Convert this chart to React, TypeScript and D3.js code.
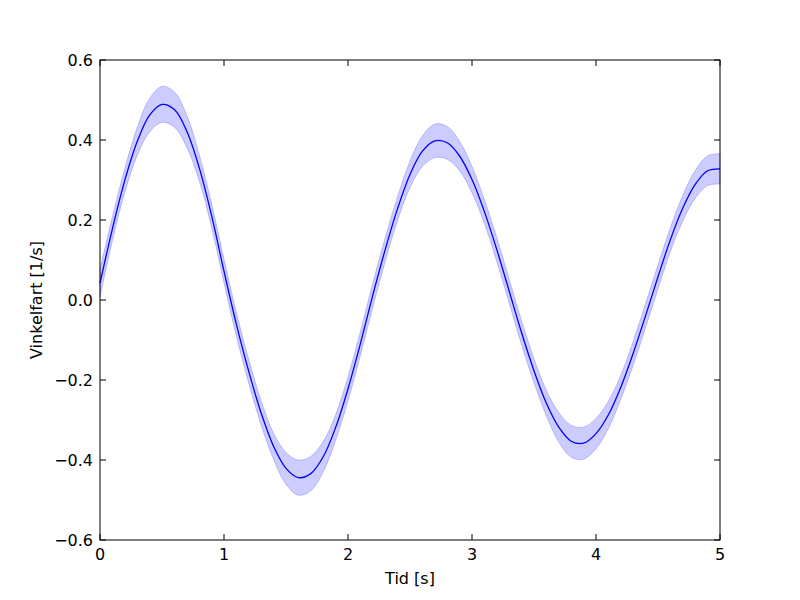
import { useEffect, useRef } from 'react';
import * as d3 from 'd3';

// time samples [s]
const TIME = [
  0.0, 0.1, 0.2, 0.3, 0.4, 0.5, 0.6, 0.7, 0.8, 0.9,
  1.0, 1.1, 1.2, 1.3, 1.4, 1.5, 1.6, 1.7, 1.8, 1.9,
  2.0, 2.1, 2.2, 2.3, 2.4, 2.5, 2.6, 2.7, 2.8, 2.9,
  3.0, 3.1, 3.2, 3.3, 3.4, 3.5, 3.6, 3.7, 3.8, 3.9,
  4.0, 4.1, 4.2, 4.3, 4.4, 4.5, 4.6, 4.7, 4.8, 4.9,
  5.0,
];

// mean angular velocity [1/s]
const MEAN = [
  0.042, 0.178, 0.299, 0.396, 0.462, 0.489, 0.476, 0.422, 0.331, 0.211,
  0.072, -0.061, -0.179, -0.283, -0.366, -0.421, -0.444, -0.434, -0.392, -0.319,
  -0.222, -0.109, 0.012, 0.126, 0.229, 0.314, 0.372, 0.398, 0.393, 0.36,
  0.301, 0.221, 0.126, 0.022, -0.082, -0.177, -0.258, -0.318, -0.353, -0.358,
  -0.334, -0.287, -0.218, -0.133, -0.039, 0.058, 0.151, 0.23, 0.289, 0.323,
  0.328,
];

// half-width of the shaded band
const SPREAD = [
  0.035, 0.03, 0.03, 0.035, 0.042, 0.045, 0.044, 0.04, 0.033, 0.03,
  0.03, 0.03, 0.03, 0.03, 0.033, 0.04, 0.044, 0.043, 0.038, 0.032,
  0.03, 0.03, 0.03, 0.03, 0.03, 0.033, 0.038, 0.042, 0.041, 0.037,
  0.033, 0.03, 0.03, 0.03, 0.03, 0.03, 0.032, 0.037, 0.04, 0.04,
  0.038, 0.034, 0.03, 0.03, 0.03, 0.03, 0.03, 0.032, 0.035, 0.037,
  0.038,
];

const X_TICKS = [0, 1, 2, 3, 4, 5];
const Y_TICKS = [-0.6, -0.4, -0.2, 0.0, 0.2, 0.4, 0.6];

const WIDTH = 800;
const HEIGHT = 600;
const FONT = 'DejaVu Sans, sans-serif';

export default function App() {
  const svgRef = useRef<SVGSVGElement>(null);

  useEffect(() => {
    if (!svgRef.current) return;
    const svg = d3.select(svgRef.current);
    svg.selectAll('*').remove();

    const margin = { top: 60, right: 80, bottom: 60, left: 100 };
    const innerWidth = WIDTH - margin.left - margin.right;
    const innerHeight = HEIGHT - margin.top - margin.bottom;

    const x = d3.scaleLinear().domain([0, 5]).range([0, innerWidth]);
    const y = d3.scaleLinear().domain([-0.6, 0.6]).range([innerHeight, 0]);

    const data = TIME.map((t, i) => ({ t, m: MEAN[i], s: SPREAD[i] }));

    const g = svg
      .append('g')
      .attr('transform', `translate(${margin.left},${margin.top})`);

    // shaded band
    const area = d3
      .area<{ t: number; m: number; s: number }>()
      .x((d) => x(d.t))
      .y0((d) => y(d.m - d.s))
      .y1((d) => y(d.m + d.s))
      .curve(d3.curveCatmullRom);

    g.append('path')
      .datum(data)
      .attr('d', area)
      .attr('fill', 'blue')
      .attr('fill-opacity', 0.2)
      .attr('stroke', 'blue')
      .attr('stroke-opacity', 0.2)
      .attr('stroke-width', 1);

    // mean line
    const line = d3
      .line<{ t: number; m: number; s: number }>()
      .x((d) => x(d.t))
      .y((d) => y(d.m))
      .curve(d3.curveCatmullRom);

    g.append('path')
      .datum(data)
      .attr('d', line)
      .attr('fill', 'none')
      .attr('stroke', 'blue')
      .attr('stroke-width', 1.3);

    // ticks pointing inward on all four sides
    const tickLen = 6;
    const fmtY = (v: number) => (v < 0 ? '\u2212' : '') + Math.abs(v).toFixed(1);

    X_TICKS.forEach((v) => {
      const px = x(v);
      g.append('line').attr('x1', px).attr('x2', px)
        .attr('y1', innerHeight).attr('y2', innerHeight - tickLen)
        .attr('stroke', 'black');
      g.append('line').attr('x1', px).attr('x2', px)
        .attr('y1', 0).attr('y2', tickLen)
        .attr('stroke', 'black');
      g.append('text')
        .attr('x', px)
        .attr('y', innerHeight + 20)
        .attr('text-anchor', 'middle')
        .attr('font-family', FONT)
        .attr('font-size', 16)
        .text(String(v));
    });

    Y_TICKS.forEach((v) => {
      const py = y(v);
      g.append('line').attr('x1', 0).attr('x2', tickLen)
        .attr('y1', py).attr('y2', py)
        .attr('stroke', 'black');
      g.append('line').attr('x1', innerWidth).attr('x2', innerWidth - tickLen)
        .attr('y1', py).attr('y2', py)
        .attr('stroke', 'black');
      g.append('text')
        .attr('x', -7)
        .attr('y', py)
        .attr('dy', '0.36em')
        .attr('text-anchor', 'end')
        .attr('font-family', FONT)
        .attr('font-size', 16)
        .text(fmtY(v));
    });

    // frame
    g.append('rect')
      .attr('width', innerWidth)
      .attr('height', innerHeight)
      .attr('fill', 'none')
      .attr('stroke', 'black')
      .attr('stroke-width', 1);

    // axis labels
    svg.append('text')
      .attr('x', margin.left + innerWidth / 2)
      .attr('y', 584)
      .attr('text-anchor', 'middle')
      .attr('font-family', FONT)
      .attr('font-size', 16)
      .text('Tid [s]');

    svg.append('text')
      .attr('transform', `translate(42,${margin.top + innerHeight / 2}) rotate(-90)`)
      .attr('text-anchor', 'middle')
      .attr('font-family', FONT)
      .attr('font-size', 16)
      .text('Vinkelfart [1/s]');
  }, []);

  return (
    <svg
      ref={svgRef}
      width={WIDTH}
      height={HEIGHT}
      style={{ position: 'absolute', left: 0, top: 0, background: 'white' }}
    />
  );
}
